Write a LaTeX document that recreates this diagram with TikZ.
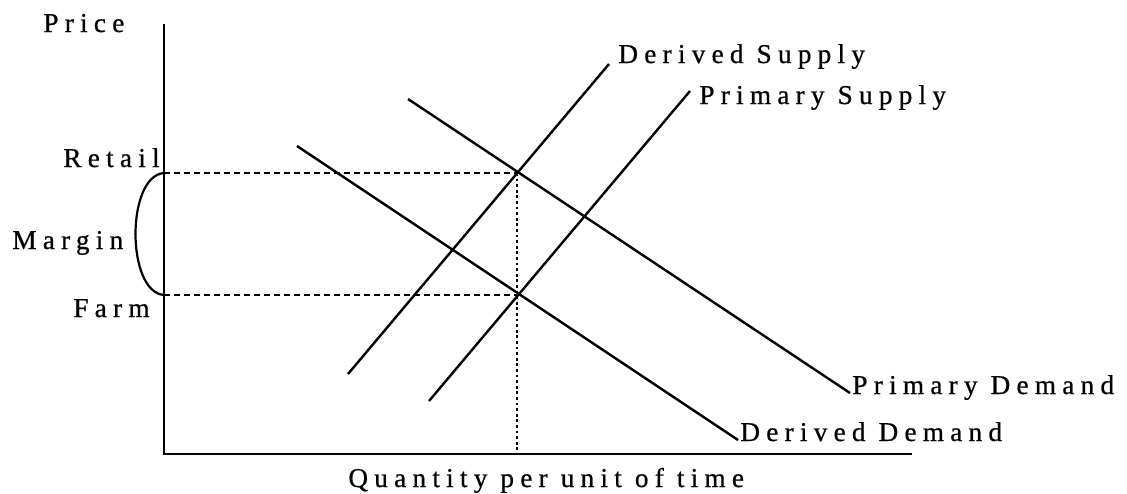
\documentclass[tikz,border=0pt]{standalone}
\usepackage{fontspec}
\setmainfont{Liberation Serif}[LetterSpace=23, FakeBold=0.7]
\usetikzlibrary{positioning}

\begin{document}
\begin{tikzpicture}[x=0.5pt, y=-0.5pt,
    lbl/.style={font=\fontsize{13.6}{15}\selectfont, inner sep=0pt, anchor=base west},
    curve/.style={line width=1.2pt},
    axis/.style={line width=1.4pt},
    guide/.style={line width=0.65pt, dash pattern=on 3pt off 2pt},
    drop/.style={line width=1pt, dash pattern=on 1.4pt off 1.4pt}]
  \useasboundingbox (0,0) rectangle (1127,493);
  % Axes
  \coordinate (origin) at (164,454);
  \coordinate (ytop) at (164,24);
  \coordinate (xend) at (912,454);
  \draw[axis] (ytop) -- (origin) -- (xend);
  \node[lbl] (price) at (43,32) {Price};
  \node[lbl] (qty) at (348,487) {Quantity per unit of time};
  % Equilibrium points
  \coordinate (retail) at (517,173);
  \coordinate (farm) at (517,295);
  \coordinate (retailax) at (164,173);
  \coordinate (farmax) at (164,295);
  \coordinate (qbase) at (517,454);
  % Guide lines
  \draw[guide] (retailax) -- (retail);
  \draw[guide] (farmax) -- (farm);
  \draw[drop] (retail) -- (qbase);
  % Margin bracket
  \draw[line width=1.1pt] (retailax) .. controls (126,176) and (126,292) .. (farmax);
  \node[lbl] (retaillbl) at (63,167) {Retail};
  \node[lbl] (marginlbl) at (12,249) {Margin};
  \node[lbl] (farmlbl) at (73,317) {Farm};
  % Supply curves
  \coordinate (ds0) at (348,374);
  \coordinate (ds1) at (609,64);
  \coordinate (ps0) at (429,401);
  \coordinate (ps1) at (690,91);
  \draw[curve] (ds0) -- (ds1);
  \draw[curve] (ps0) -- (ps1);
  \node[lbl] (dslbl) at (618,63) {Derived Supply};
  \node[lbl] (pslbl) at (699,104) {Primary Supply};
  % Demand curves
  \coordinate (pd0) at (408,99);
  \coordinate (pd1) at (850,393);
  \coordinate (dd0) at (297,146);
  \coordinate (dd1) at (738,440);
  \draw[curve] (pd0) -- (pd1);
  \draw[curve] (dd0) -- (dd1);
  \node[lbl] (pdlbl) at (852,394) {Primary Demand};
  \node[lbl] (ddlbl) at (740,441) {Derived Demand};
\end{tikzpicture}
\end{document}
